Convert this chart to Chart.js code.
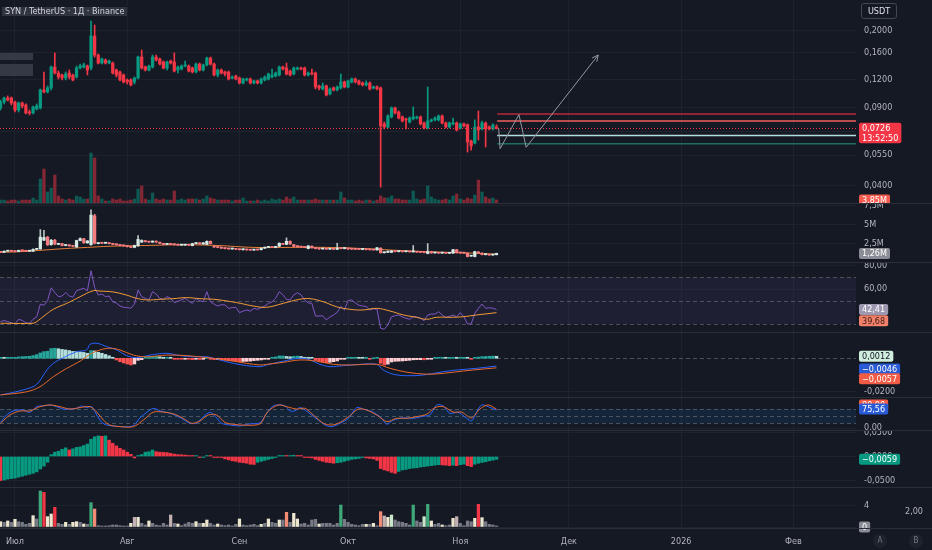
<!DOCTYPE html>
<html>
<head>
<meta charset="utf-8">
<script src="https://cdn.jsdelivr.net/npm/chart.js@4.4.1/dist/chart.umd.min.js"></script>
<style>
  body { margin: 0; width: 932px; height: 550px; overflow: hidden; position: relative; background: #151924;
         font-family: "Liberation Sans Narrow", "DejaVu Sans Condensed", "Liberation Sans", sans-serif; }
  .pane { position: absolute; left: 0; width: 932px; }
  .sep { position: absolute; left: 0; width: 932px; height: 1px; background: #2a2e39; z-index: 2; }
  .title { position: absolute; left: 2px; top: 7px; height: 9px; padding: 0 3px; background: #30343f; color: #d1d4dc;
           font-size: 9px; line-height: 9px; z-index: 3; white-space: nowrap; }
  .blk { position: absolute; left: 0; width: 33px; background: #353945; z-index: 3; }
  .usdt { position: absolute; left: 861px; top: 3px; width: 34px; height: 14px; border: 1px solid #434651; border-radius: 3px;
          color: #e0e3eb; font-size: 9px; line-height: 14px; text-align: center; z-index: 3; }
  .note { position: absolute; color: #b2b5be; font-size: 9px; z-index: 3; }
  .btn { position: absolute; top: 534px; width: 14px; height: 14px; border-radius: 7px; background: #1e222d; color: #787b86;
         font-size: 8px; line-height: 14px; text-align: center; z-index: 3; }
</style>
</head>
<body>
<div class="pane" style="top:0;height:203px"><canvas id="pane1"></canvas></div>
<div class="pane" style="top:204px;height:58px"><canvas id="pane2"></canvas></div>
<div class="pane" style="top:263px;height:69px"><canvas id="pane3"></canvas></div>
<div class="pane" style="top:333px;height:64px"><canvas id="pane4"></canvas></div>
<div class="pane" style="top:398px;height:32px"><canvas id="pane5"></canvas></div>
<div class="pane" style="top:431px;height:56px"><canvas id="pane6"></canvas></div>
<div class="pane" style="top:488px;height:62px"><canvas id="pane7"></canvas></div>

<div class="sep" style="top:203px"></div>
<div class="sep" style="top:262px"></div>
<div class="sep" style="top:332px"></div>
<div class="sep" style="top:397px"></div>
<div class="sep" style="top:430px"></div>
<div class="sep" style="top:487px"></div>
<div class="sep" style="top:528px"></div>

<div class="title">SYN / TetherUS · 1Д · Binance</div>
<div class="blk" style="top:53px;height:7px"></div>
<div class="blk" style="top:64px;height:12px"></div>
<div class="usdt">USDT</div>
<div class="note" style="left:905px;top:506px">2,00</div>
<div class="btn" style="left:873px">A</div>
<div class="btn" style="left:909px">B</div>

<script>
// daily bars, index 0 = 27 Jun 2025
const monthTicks = [4, 35, 66, 96, 127, 157, 188, 219];
const monthNames = ['Июл', 'Авг', 'Сен', 'Окт', 'Ноя', 'Дек', '2026', 'Фев'];

const open = [0.0897,0.0954,0.0995,0.0995,0.0954,0.0878,0.0944,0.0925,0.0860,0.0851,
  0.0887,0.0897,0.1081,0.1059,0.1104,0.1372,0.1289,0.1263,0.1224,0.1289,
  0.1263,0.1237,0.1358,0.1372,0.1386,0.1358,0.1893,0.1554,0.1430,0.1475,
  0.1430,0.1430,0.1330,0.1303,0.1263,0.1199,0.1199,0.1175,0.1224,0.1522,
  0.1372,0.1330,0.1372,0.1522,0.1491,0.1445,0.1358,0.1460,0.1445,0.1330,
  0.1344,0.1386,0.1386,0.1358,0.1303,0.1415,0.1330,0.1401,0.1506,0.1415,
  0.1263,0.1330,0.1303,0.1303,0.1224,0.1250,0.1224,0.1162,0.1199,0.1212,
  0.1162,0.1187,0.1162,0.1199,0.1212,0.1237,0.1250,0.1263,0.1372,0.1358,
  0.1316,0.1276,0.1344,0.1358,0.1358,0.1263,0.1289,0.1289,0.1127,0.1092,
  0.1127,0.1037,0.1104,0.1081,0.1104,0.1175,0.1115,0.1175,0.1212,0.1187,
  0.1162,0.1138,0.1162,0.1104,0.1115,0.1104,0.0760,0.0736,0.0817,0.0897,
  0.0860,0.0817,0.0800,0.0775,0.0800,0.0808,0.0817,0.0767,0.0729,0.0783,
  0.0792,0.0792,0.0825,0.0767,0.0736,0.0760,0.0767,0.0729,0.0760,0.0752,
  0.0637,0.0623,0.0736,0.0721,0.0767,0.0736,0.0721,0.0736];
const high = [0.0974,0.1005,0.1016,0.1005,0.0964,0.0954,0.0954,0.0935,0.0878,0.0915,
  0.0935,0.1092,0.1303,0.1127,0.1386,0.1587,0.1316,0.1276,0.1303,0.1330,
  0.1276,0.1386,0.1415,0.1430,0.1401,0.2212,0.2122,0.1570,0.1506,0.1491,
  0.1475,0.1445,0.1344,0.1316,0.1276,0.1212,0.1212,0.1237,0.1538,0.1637,
  0.1386,0.1401,0.1554,0.1554,0.1506,0.1460,0.1460,0.1475,0.1587,0.1386,
  0.1401,0.1460,0.1401,0.1372,0.1430,0.1430,0.1415,0.1522,0.1522,0.1430,
  0.1344,0.1344,0.1316,0.1316,0.1250,0.1263,0.1237,0.1224,0.1224,0.1224,
  0.1199,0.1199,0.1224,0.1250,0.1289,0.1344,0.1303,0.1386,0.1386,0.1430,
  0.1330,0.1372,0.1372,0.1372,0.1372,0.1303,0.1344,0.1303,0.1138,0.1162,
  0.1138,0.1104,0.1115,0.1127,0.1276,0.1187,0.1199,0.1224,0.1224,0.1199,
  0.1175,0.1187,0.1175,0.1127,0.1127,0.1115,0.0775,0.0834,0.0906,0.0906,
  0.0869,0.0825,0.0808,0.0817,0.0906,0.0825,0.0825,0.0775,0.1115,0.0800,
  0.0817,0.0834,0.0834,0.0775,0.0775,0.0808,0.0775,0.0767,0.0767,0.0760,
  0.0643,0.0792,0.0869,0.0783,0.0775,0.0744,0.0760,0.0752];
const low = [0.0878,0.0935,0.0964,0.0925,0.0860,0.0860,0.0897,0.0843,0.0834,0.0843,
  0.0878,0.0887,0.1048,0.1048,0.1081,0.1276,0.1212,0.1199,0.1199,0.1212,
  0.1187,0.1224,0.1344,0.1358,0.1263,0.1330,0.1522,0.1415,0.1415,0.1415,
  0.1415,0.1276,0.1237,0.1187,0.1162,0.1150,0.1127,0.1150,0.1212,0.1344,
  0.1316,0.1316,0.1358,0.1460,0.1401,0.1344,0.1330,0.1415,0.1303,0.1289,
  0.1330,0.1372,0.1303,0.1289,0.1289,0.1316,0.1316,0.1386,0.1401,0.1250,
  0.1237,0.1276,0.1250,0.1199,0.1212,0.1199,0.1150,0.1150,0.1187,0.1150,
  0.1150,0.1150,0.1150,0.1187,0.1199,0.1224,0.1237,0.1250,0.1330,0.1263,
  0.1250,0.1263,0.1330,0.1330,0.1250,0.1250,0.1263,0.1092,0.1081,0.1081,
  0.1016,0.1026,0.1070,0.1070,0.1092,0.1104,0.1104,0.1162,0.1162,0.1138,
  0.1127,0.1127,0.1081,0.1092,0.1081,0.0394,0.0721,0.0729,0.0808,0.0843,
  0.0800,0.0775,0.0721,0.0767,0.0792,0.0800,0.0752,0.0721,0.0721,0.0775,
  0.0783,0.0783,0.0760,0.0729,0.0729,0.0752,0.0706,0.0721,0.0736,0.0567,
  0.0579,0.0617,0.0643,0.0714,0.0598,0.0714,0.0714,0.0721];
const close = [0.0954,0.0995,0.0974,0.0944,0.0878,0.0944,0.0915,0.0851,0.0851,0.0906,
  0.0915,0.1081,0.1059,0.1104,0.1372,0.1289,0.1237,0.1224,0.1276,0.1237,
  0.1199,0.1358,0.1386,0.1401,0.1330,0.1893,0.1554,0.1430,0.1491,0.1430,
  0.1460,0.1289,0.1263,0.1199,0.1175,0.1175,0.1138,0.1224,0.1522,0.1358,
  0.1330,0.1386,0.1522,0.1475,0.1415,0.1358,0.1445,0.1430,0.1316,0.1372,
  0.1386,0.1401,0.1316,0.1303,0.1415,0.1330,0.1401,0.1506,0.1415,0.1263,
  0.1330,0.1289,0.1276,0.1212,0.1237,0.1212,0.1162,0.1212,0.1212,0.1162,
  0.1187,0.1162,0.1212,0.1237,0.1276,0.1263,0.1289,0.1372,0.1344,0.1276,
  0.1263,0.1358,0.1358,0.1344,0.1263,0.1289,0.1276,0.1115,0.1104,0.1127,
  0.1026,0.1092,0.1081,0.1115,0.1175,0.1115,0.1187,0.1212,0.1175,0.1150,
  0.1138,0.1162,0.1092,0.1115,0.1092,0.0744,0.0736,0.0825,0.0897,0.0851,
  0.0808,0.0783,0.0792,0.0808,0.0817,0.0817,0.0760,0.0729,0.0783,0.0792,
  0.0808,0.0825,0.0767,0.0736,0.0767,0.0767,0.0714,0.0760,0.0744,0.0630,
  0.0604,0.0736,0.0714,0.0767,0.0721,0.0721,0.0752,0.0726];
// volume, millions
const volume = [3.8,3.8,2.6,3.8,3.8,2.6,3.8,3.8,3.8,6.4, 3.8,30.7,43.5,14.1,19.2,35.8,9.0,5.1,3.8,5.1,
  3.8,9.0,7.7,5.1,5.1,64.0,57.6,9.0,5.1,2.6, 2.6,5.1,3.8,5.1,2.6,2.6,3.8,5.1,17.9,21.8,
  5.1,3.8,12.8,5.1,3.8,5.1,3.8,3.8,15.4,3.8, 5.1,3.8,5.1,5.1,5.1,3.8,5.1,9.0,6.4,5.1,
  3.8,3.8,3.8,3.8,2.6,3.8,3.8,6.4,2.6,2.6, 2.6,3.8,2.6,3.8,2.6,5.1,3.8,5.1,3.8,7.7,
  5.1,7.7,3.8,3.8,3.8,3.8,3.8,5.1,3.8,3.8, 3.8,3.8,3.8,3.8,14.1,6.4,3.8,3.8,2.6,3.8,
  2.6,3.8,3.8,2.6,3.8,9.0,6.4,6.4,9.0,5.1, 5.1,3.8,3.8,3.8,15.4,5.1,3.8,5.1,21.8,7.7,
  5.1,3.8,3.8,5.1,3.8,9.0,11.5,5.1,3.8,6.4, 5.1,10.2,29.4,14.1,7.7,5.1,6.4,3.85];

// drawings on the price pane
const levelStart = 137.2;
const levelPrices = [0.0842, 0.0783, 0.0673, 0.0619];
const pathIdx = [137.6, 138.0, 143.2, 145.2, 165.1];
const pathPrice = [0.0726, 0.0587, 0.0837, 0.0596, 0.1554];

// pane 2, millions
const p2Open = [1.50,1.40,1.55,1.60,1.55,1.50,1.65,1.60,1.55,1.55, 1.80,1.85,3.00,3.40,2.40,3.00,2.45,2.55,2.30,2.35,
  2.25,2.10,2.95,3.20,2.65,2.40,6.20,2.55,2.65,2.60, 2.62,2.55,2.45,2.40,2.30,2.25,2.15,2.05,2.25,2.75,
  2.90,2.80,2.75,2.85,2.70,2.55,2.45,2.50,2.45,2.40, 2.35,2.35,2.40,2.30,2.55,2.65,2.50,2.45,2.85,2.20,
  2.10,2.05,1.95,1.90,1.85,1.85,1.80,1.75,1.78,1.72, 1.70,1.75,1.75,1.95,2.05,2.10,2.05,2.20,2.55,2.45,
  2.85,2.40,2.20,2.15,2.10,1.90,2.20,2.00,1.90,1.85, 1.88,1.82,1.85,1.80,1.95,1.90,1.92,1.85,1.82,1.80,
  1.78,1.80,1.76,1.74,1.72,1.95,1.35,1.40,1.40,1.55, 1.50,1.52,1.48,1.50,1.46,1.48,1.42,1.40,1.25,1.50,
  1.32,1.34,1.30,1.32,1.28,1.30,1.75,1.35,1.32,1.30, 0.90,0.85,1.45,1.30,1.10,1.12,1.05,1.10];
const p2Close = [1.40,1.55,1.60,1.55,1.50,1.65,1.60,1.55,1.55,1.80, 1.85,3.40,3.35,2.40,3.00,2.50,2.55,2.30,2.35,2.25,
  2.20,2.95,3.20,2.65,2.90,6.30,2.60,2.65,2.60,2.62, 2.55,2.45,2.40,2.30,2.25,2.15,2.05,2.30,3.10,2.95,
  2.80,2.75,2.85,2.75,2.60,2.45,2.50,2.45,2.40,2.35, 2.35,2.40,2.35,2.55,2.65,2.50,2.65,2.85,2.55,2.10,
  2.05,1.95,1.90,1.85,1.85,1.80,1.75,1.78,1.72,1.70, 1.75,1.72,1.95,2.05,2.10,2.05,2.15,2.60,2.45,2.85,
  2.50,2.20,2.15,2.10,2.05,2.25,2.00,1.90,1.85,1.88, 1.82,1.85,1.80,1.95,1.90,1.92,1.85,1.82,1.80,1.78,
  1.80,1.76,1.74,1.72,2.00,1.35,1.40,1.55,1.60,1.50, 1.52,1.48,1.50,1.46,1.48,1.42,1.40,1.38,1.50,1.32,
  1.34,1.30,1.32,1.28,1.30,1.75,1.35,1.32,1.30,0.85, 0.95,1.50,1.30,1.10,1.12,1.05,1.10,1.26];
const p2High = [1.55,1.60,1.65,1.65,1.60,1.70,1.70,1.62,1.60,1.85, 1.90,4.40,4.30,3.50,3.10,3.10,2.60,2.60,2.40,2.40,
  2.30,3.00,3.30,3.25,2.95,7.00,6.40,2.70,2.70,2.68, 2.65,2.60,2.50,2.45,2.35,2.30,2.20,2.35,3.60,3.05,
  2.95,2.85,2.90,2.90,2.75,2.60,2.55,2.55,2.50,2.45, 2.40,2.45,2.45,2.60,2.70,2.70,2.70,2.90,2.90,2.25,
  2.15,2.10,2.00,1.95,1.90,1.90,1.85,1.82,1.82,1.76, 1.80,1.78,2.00,2.10,2.15,2.15,2.20,2.65,2.60,3.30,
  2.90,2.45,2.25,2.20,2.15,2.30,2.25,2.05,1.95,1.92, 1.92,1.90,1.90,2.60,2.00,1.96,1.96,1.90,1.86,1.84,
  1.84,1.84,1.80,1.78,2.05,2.00,1.45,1.60,1.65,1.60, 1.56,1.56,1.54,1.54,2.30,1.52,1.46,1.44,2.55,1.54,
  1.38,1.38,1.36,1.36,1.34,1.80,1.80,1.40,1.36,1.32, 1.00,1.55,1.50,1.35,1.16,1.16,1.15,1.30];
const p2Low = [1.35,1.38,1.50,1.50,1.45,1.48,1.55,1.50,1.50,1.52, 1.75,1.80,2.95,2.30,2.35,2.40,2.40,2.25,2.25,2.20,
  2.15,2.05,2.90,2.60,2.60,2.35,2.50,2.50,2.55,2.55, 2.50,2.40,2.35,2.25,2.20,2.10,2.00,2.00,2.20,2.70,
  2.75,2.70,2.70,2.70,2.55,2.40,2.40,2.40,2.35,2.30, 2.30,2.30,2.30,2.25,2.50,2.45,2.45,2.40,2.50,2.05,
  2.00,1.90,1.85,1.80,1.80,1.75,1.70,1.70,1.68,1.66, 1.66,1.68,1.70,1.90,2.00,2.00,2.00,2.15,2.40,2.40,
  2.45,2.15,2.10,2.05,2.00,1.85,1.95,1.85,1.80,1.80, 1.78,1.78,1.75,1.75,1.85,1.85,1.80,1.78,1.75,1.74,
  1.74,1.72,1.70,1.68,1.68,1.30,1.30,1.35,1.35,1.45, 1.45,1.44,1.44,1.42,1.42,1.38,1.36,1.34,1.20,1.28,
  1.28,1.26,1.26,1.24,1.24,1.26,1.30,1.28,1.26,0.80, 0.85,0.80,1.25,1.05,1.05,1.00,1.00,1.05];
const p2MaIdx = [0, 6, 12, 18, 24, 30, 40, 50, 60, 70, 80, 90, 100, 110, 120, 130, 137];
const p2MaVals = [1.40, 1.50, 1.70, 1.90, 2.05, 2.20, 2.30, 2.40, 2.30, 2.05, 2.05, 2.05, 1.90, 1.65, 1.45, 1.30, 1.15];

// RSI
const rsi = [32,33,32,31,30,34,33,31,30.5,34, 36,47,46,50,61,57,53.4,54,57,54,
  53,58.5,59.7,60.6,58.5,75.7,61.4,54.8,55.7,53.4, 54,49,48,45.4,44.3,44,43.5,47,59.1,53.4,
  52,50.6,57.7,55.7,52,51,53.4,52,48.2,49.5, 50.6,52,49.5,47.7,52,50,49,57.7,49,47,
  45.4,46.5,46.3,43.4,44,44.3,39.7,41,42,41, 43.4,42.5,44,45.4,47.7,49,52,57.7,55,51,
  50.6,55,56.8,55,50.6,48,47.7,36.8,36.8,37, 33.4,36,37.7,40,45,42,50,50.6,48,46,
  45.4,45,42,43,42.5,26.3,25.4,29.1,36.2,37, 37.7,36,34.9,34,36.2,36,34.9,32.8,37.7,38.5,
  38.5,40.5,37.7,35.7,36.5,37.7,36.2,39.7,36.2,30, 30,39.1,43.4,47.1,43.4,43.9,43.5,42.41];
const rsiMaIdx = [0, 9, 10, 12, 14.6, 18.3, 22, 25.6, 27.5, 31.2, 34.8, 37.6, 40.4, 44.1, 47.7, 51.4, 55.1, 58.8, 62.5, 66.2,
  69.8, 73.5, 78.1, 82.7, 85.5, 89.2, 92.8, 96.5, 100.2, 103.9, 107.6, 111.3, 114.9, 117.7, 120.5, 124.2, 127.8, 131.5, 137];
const rsiMaVals = [30.6, 30.6, 32, 36.8, 42.6, 47.7, 53.4, 58.5, 58.2, 57.4, 54.8, 52, 50.6, 51.2, 51.7, 52.6, 51.7, 51.2, 49.7, 47.7,
  45.4, 44.3, 47.7, 51.2, 51.7, 49, 44.8, 42.6, 42, 43.4, 41.1, 37.7, 35.7, 34, 35.7, 35.7, 36.2, 37.7, 39.68];

// MACD
const macdIdx = [0, 3.5, 7.2, 10, 12.8, 14.6, 17.4, 21, 23.8, 24.7, 26.6, 29.3, 32.1, 34.8, 37.6, 41.3, 45.9, 49.6, 53.3, 57,
  60.6, 64.3, 68, 71.7, 73.5, 78.1, 82.7, 85.5, 88.2, 91, 94.7, 99.3, 103.9, 105.7, 108.5, 112.2, 116.8, 121.4, 126, 131.5, 137];
const macdVals = [-0.0219, -0.0204, -0.0183, -0.0156, -0.0070, -0.0030, 0.0004, 0.0039, 0.0050, 0.0083, 0.0090, 0.0070, 0.0050, 0.0016, 0.0004,
  0.0019, 0.0030, 0.0016, 0.0009, 0.0009, -0.0010, -0.0030, -0.0044, -0.0050, -0.0040, -0.0017, 0.0000, -0.0010, -0.0036, -0.0050,
  -0.0044, -0.0036, -0.0036, -0.0070, -0.0095, -0.0104, -0.0100, -0.0083, -0.0070, -0.0060, -0.0046];
const signalIdx = [0, 7.2, 10.9, 14.6, 18.3, 22, 24.7, 27.5, 30.2, 33, 36.7, 40.4, 45.9, 51.4, 57, 60.6, 64.3, 68, 71.7, 73.5,
  78.1, 82.7, 87.3, 91.9, 96.5, 103.9, 107.6, 112.2, 117.7, 122.3, 127.8, 133.4, 137];
const signalVals = [-0.0219, -0.0200, -0.0170, -0.0110, -0.0060, -0.0017, 0.0024, 0.0050, 0.0060, 0.0050, 0.0019, 0.0009, 0.0019, 0.0016, 0.0004,
  -0.0005, -0.0017, -0.0030, -0.0040, -0.0036, -0.0024, -0.0010, -0.0017, -0.0036, -0.0040, -0.0036, -0.0060, -0.0083, -0.0095, -0.0090,
  -0.0076, -0.0064, -0.0057];
const macdHist = [0.0003,0.0002,0.0003,0.0003,0.0004,0.0008,0.0010,0.0011,0.0012,0.0016, 0.0022,0.0032,0.0040,0.0042,0.0058,0.0060,0.0057,0.0053,0.0050,0.0046,
  0.0041,0.0040,0.0038,0.0035,0.0030,0.0046,0.0044,0.0036,0.0030,0.0023, 0.0015,0.0002,-0.0010,-0.0020,-0.0028,-0.0034,-0.0040,-0.0034,-0.0012,-0.0008,
  0.0002,0.0006,0.0012,0.0012,0.0009,0.0005,0.0006,0.0004,-0.0002,-0.0003, -0.0004,-0.0003,-0.0006,-0.0008,-0.0005,-0.0007,-0.0005,0.0001,-0.0001,-0.0008,
  -0.0008,-0.0010,-0.0011,-0.0014,-0.0015,-0.0017,-0.0020,-0.0019,-0.0018,-0.0017, -0.0014,-0.0012,-0.0010,-0.0006,-0.0002,0.0004,0.0008,0.0014,0.0014,0.0011,
  0.0009,0.0012,0.0013,0.0011,0.0006,0.0004,0.0002,-0.0012,-0.0018,-0.0022, -0.0026,-0.0024,-0.0020,-0.0016,-0.0006,-0.0004,0.0002,0.0005,0.0005,0.0004,
  0.0002,0.0002,-0.0001,0.0000,0.0001,-0.0030,-0.0040,-0.0035,-0.0022,-0.0018, -0.0017,-0.0016,-0.0014,-0.0012,-0.0009,-0.0008,-0.0008,-0.0009,-0.0004,-0.0002,
  0.0001,0.0004,0.0004,0.0003,0.0004,0.0005,0.0004,0.0005,0.0005,0.0001, -0.0001,0.0004,0.0007,0.0010,0.0011,0.0012,0.0013,0.0012];

// Stochastic
const stochKIdx = [0, 1.7, 3.5, 6.3, 8.1, 10, 11.8, 13.7, 15.5, 17.4, 19.2, 21, 22.4, 23.8, 25.2, 26.6, 28, 29.3, 31.2, 33.9,
  36.7, 38.5, 40.4, 42.2, 44.1, 45.9, 47.7, 50, 52.3, 54.2, 56, 57.9, 59.7, 61.1, 63.4, 66.2, 68.9, 71.7, 73.5, 75.3,
  77.2, 78.6, 80, 81.3, 82.7, 84.1, 85.9, 87.8, 89.6, 91.5, 93.8, 96.1, 98.4, 100.2, 103, 105.3, 106.7, 108.5, 111.3, 114,
  116.8, 118.6, 120.5, 122.3, 124.1, 126.4, 128.8, 130.1, 131.5, 132.9, 134.7, 137];
const stochKVals = [24, 55, 72, 76, 66, 90, 93, 97, 90, 80, 80, 83, 93, 86, 90, 55, 24, 13, 9, 6,
  10, 43, 66, 83, 72, 66, 58, 41, 20, 22, 47, 66, 43, 20, 13, 9, 18, 22, 62, 93,
  97, 93, 72, 72, 86, 76, 55, 34, 13, 6, 20, 41, 86, 80, 66, 41, 16, 34, 43, 41,
  50, 55, 97, 93, 62, 66, 41, 30, 67, 97, 90, 75.56];
const stochDIdx = [0, 2.6, 5.4, 8.1, 10.9, 13.7, 16.4, 19.2, 22, 24.7, 26.6, 28.4, 30.2, 33, 36.7, 39.5, 42.2, 45, 47.7, 50.5,
  52.8, 55.1, 57.4, 59.7, 62, 64.3, 68, 71.7, 73.7, 76.7, 79, 81.8, 84.1, 86.4, 89.2, 91.5, 93.8, 96.5, 98.8, 101.1,
  103.9, 106.7, 109.4, 112.2, 114.9, 117.7, 120, 122.3, 125.1, 127.4, 130.1, 132.4, 134.7, 137];
const stochDVals = [20, 55, 72, 72, 90, 97, 90, 80, 86, 90, 67, 34, 13, 6, 6, 34, 67, 67, 60, 41,
  20, 30, 55, 55, 24, 16, 12, 18, 67, 97, 90, 80, 83, 55, 20, 13, 24, 52, 80, 76,
  55, 27, 41, 41, 48, 58, 86, 90, 67, 67, 43, 80, 97, 80];

// momentum histogram (pane 6)
const momentum = [-0.050,-0.049,-0.047,-0.046,-0.045,-0.043,-0.041,-0.039,-0.037,-0.035, -0.032,-0.026,-0.020,-0.012,0.004,0.009,0.011,0.015,0.018,0.0135,
  0.016,0.019,0.020,0.023,0.026,0.036,0.041,0.043,0.042,0.043, 0.034,0.0275,0.022,0.017,0.0135,0.009,0.0045,-0.003,0.002,0.004,
  0.009,0.010,0.0135,0.010,0.009,0.0085,0.008,0.0065,0.005,0.004, 0.0035,0.003,0.002,0.0005,0.001,-0.001,-0.0005,0.001,0.0005,-0.001,
  -0.0015,-0.002,-0.005,-0.007,-0.009,-0.010,-0.012,-0.013,-0.014,-0.016, -0.0165,-0.012,-0.010,-0.008,-0.006,-0.004,-0.002,0.001,0.002,0.0015,
  0.002,0.0025,0.002,0.001,-0.001,-0.002,-0.003,-0.006,-0.008,-0.010, -0.012,-0.013,-0.014,-0.013,-0.012,-0.010,-0.008,-0.006,-0.005,-0.004,
  -0.002,-0.003,-0.004,-0.005,-0.008,-0.025,-0.028,-0.030,-0.033,-0.035, -0.031,-0.028,-0.027,-0.025,-0.024,-0.0235,-0.022,-0.021,-0.020,-0.019,
  -0.018,-0.017,-0.0175,-0.018,-0.019,-0.018,-0.019,-0.017,-0.016,-0.019, -0.021,-0.016,-0.014,-0.0125,-0.011,-0.009,-0.0075,-0.0059];

// relative volume bars (pane 7) and their state: 0 low, 1 normal, 2 up, 3 down, 4 high up, 5 high down, 6 mixed
const relVol = [0.99,0.87,1.12,0.87,1.43,0.99,0.87,0.50,0.68,2.11, 1.49,6.70,6.45,1.92,2.42,3.66,0.68,0.50,0.87,0.50,
  0.87,0.99,0.87,0.56,0.50,4.53,3.35,0.25,0.10,0.10, 0.25,0.37,0.37,0.25,0.10,0.10,0.68,1.80,1.80,0.68,
  0.37,1.12,0.68,0.37,0.25,0.68,0.37,2.23,0.68,0.56, 0.25,0.56,0.87,0.68,0.99,0.68,0.68,1.30,0.68,0.37,
  0.56,0.37,0.25,0.37,0.10,0.50,1.49,0.37,0.25,0.37, 0.50,0.25,0.50,0.68,1.49,0.87,0.70,1.30,1.30,2.73,
  0.87,2.54,1.49,0.56,0.68,0.37,1.30,1.43,0.56,0.68, 0.68,0.68,0.37,0.68,4.09,1.43,0.87,0.50,0.37,0.25,
  0.50,0.50,0.50,0.68,0.25,2.85,2.05,1.80,2.23,1.30, 0.99,0.87,0.68,0.37,4.09,1.12,0.87,1.92,4.22,1.12,
  0.50,0.68,0.37,0.25,0.37,1.61,1.92,0.68,0.25,1.12, 0.99,1.61,4.22,1.74,0.99,0.50,0.37,0.20];
const relVolState = [1,0,1,0,1,0,0,0,0,1, 0,4,5,1,1,5,0,0,1,0, 1,1,0,1,0,4,3,0,0,0, 0,0,0,0,0,0,1,6,1,0,
  0,1,0,0,0,0,0,6,0,1, 0,0,0,0,1,0,1,1,0,0, 1,0,0,0,0,0,1,0,0,0, 0,0,1,0,1,0,0,1,0,3,
  0,1,1,0,0,0,0,0,1,0, 0,0,0,0,4,0,0,0,0,0, 0,1,0,1,0,3,6,1,2,0, 0,0,0,0,4,0,0,2,4,1,
  0,0,1,0,0,1,6,0,0,0, 0,1,5,1,0,0,0,0];

// ---- styling ----
const fontFamily = '"Liberation Sans Narrow", "DejaVu Sans Condensed", "Liberation Sans", sans-serif';
const axisFont = { family: fontFamily, size: 9 };
const textColor = '#b2b5be';
const gridColor = '#1e222d';
const upColor = '#089981', downColor = '#f23645';
const axisWidth = 76;
const xMin = -0.14, xMax = 236.3;
const relVolPalette = ['#787b86', '#ece6cf', '#c8e6c9', '#f28b75', '#3fa77a', '#f23645', '#c4b1b3'];

Chart.defaults.font.family = fontFamily;
Chart.defaults.color = textColor;

const fmt = d => v => v.toFixed(d).replace('.', ',');
const pts = (xs, ys) => xs.map((x, i) => ({ x: x, y: ys[i] }));
const byBar = ys => ys.map((y, i) => ({ x: i, y: y }));

function timeAxis(showLabels) {
  return {
    type: 'linear', min: xMin, max: xMax, offset: false,
    afterBuildTicks: s => { s.ticks = monthTicks.map(v => ({ value: v })); },
    afterFit: s => { s.paddingLeft = 0; s.paddingRight = 0; s.height = showLabels ? 22 : 0; },
    grid: { color: gridColor, drawTicks: false, offset: false },
    border: { display: false },
    ticks: { display: showLabels, autoSkip: false, maxRotation: 0, padding: 8, color: textColor, font: axisFont,
             callback: (v, i) => monthNames[i] }
  };
}

function valueAxis(type, min, max, tickValues, format) {
  return {
    type: type, position: 'right', min: min, max: max, bounds: 'data',
    afterBuildTicks: s => { s.ticks = tickValues.map(v => ({ value: v })); },
    afterFit: s => { s.width = axisWidth; s.paddingTop = 0; s.paddingBottom = 0; },
    grid: { color: gridColor, drawTicks: false },
    border: { display: false },
    ticks: { color: textColor, font: axisFont, padding: 8, autoSkip: false, callback: format }
  };
}

// last-value labels on the price scale
const tagPlugin = {
  id: 'tags',
  afterDraw(chart, args, opts) {
    const items = opts.items || [];
    const ctx = chart.ctx;
    const left = chart.chartArea.right + 3;
    items.forEach(t => {
      const y = chart.scales[t.axis || 'y'].getPixelForValue(t.value) + (t.dy || 0);
      const lines = t.sub ? [t.text, t.sub] : [t.text];
      ctx.save();
      ctx.font = '9px ' + fontFamily;
      const w = Math.max.apply(null, lines.map(l => ctx.measureText(l).width)) + 6;
      ctx.fillStyle = t.bg;
      ctx.beginPath();
      ctx.roundRect(left, y - 5.5, w, lines.length * 9.5 + 1.5, 2);
      ctx.fill();
      ctx.fillStyle = t.fg;
      ctx.textBaseline = 'middle';
      lines.forEach((l, k) => ctx.fillText(l, left + 3, y + 0.5 + k * 9.5));
      ctx.restore();
    });
  }
};

// bands and dashed reference lines
const decorPlugin = {
  id: 'decor',
  beforeDatasetsDraw(chart, args, o) {
    const { ctx, chartArea: a } = chart;
    const y = chart.scales.y;
    ctx.save();
    if (o.band) {
      const y1 = y.getPixelForValue(o.band[0]), y2 = y.getPixelForValue(o.band[1]);
      ctx.fillStyle = o.bandColor;
      ctx.fillRect(a.left, Math.min(y1, y2), a.width, Math.abs(y2 - y1));
    }
    (o.dashed || []).forEach(v => {
      const py = Math.round(y.getPixelForValue(v)) + 0.5;
      ctx.setLineDash([4, 3]);
      ctx.strokeStyle = 'rgba(120,123,134,0.55)';
      ctx.lineWidth = 1;
      ctx.beginPath(); ctx.moveTo(a.left, py); ctx.lineTo(a.right, py); ctx.stroke();
    });
    ctx.restore();
  }
};

// price line, levels and the projected path
const drawingsPlugin = {
  id: 'drawings',
  afterDatasetsDraw(chart, args, o) {
    if (!o.on) return;
    const { ctx, chartArea: a, scales: { x, y } } = chart;
    const hline = (x0, py, col, w, dash) => {
      ctx.strokeStyle = col; ctx.lineWidth = w; ctx.setLineDash(dash || []);
      ctx.beginPath(); ctx.moveTo(x0, py); ctx.lineTo(a.right, py); ctx.stroke();
    };
    ctx.save();
    ctx.beginPath(); ctx.rect(a.left, a.top, a.width, a.height); ctx.clip();
    hline(a.left, Math.round(y.getPixelForValue(close[close.length - 1])) + 0.5, downColor, 1, [1, 2]);
    const levelColors = ['#b8283a', '#f0605d', '#b2dfdb', '#1f6e5a'];
    levelPrices.forEach((p, k) => hline(x.getPixelForValue(levelStart), y.getPixelForValue(p), levelColors[k], 1.5));
    ctx.setLineDash([]);
    ctx.strokeStyle = '#9598a1'; ctx.lineWidth = 1;
    ctx.beginPath();
    const px = pathIdx.map(v => x.getPixelForValue(v));
    const py = pathPrice.map(v => y.getPixelForValue(v));
    px.forEach((v, k) => k ? ctx.lineTo(v, py[k]) : ctx.moveTo(v, py[k]));
    const n = px.length - 1;
    const ang = Math.atan2(py[n] - py[n - 1], px[n] - px[n - 1]);
    ctx.moveTo(px[n] - 7 * Math.cos(ang - 0.45), py[n] - 7 * Math.sin(ang - 0.45));
    ctx.lineTo(px[n], py[n]);
    ctx.lineTo(px[n] - 7 * Math.cos(ang + 0.45), py[n] - 7 * Math.sin(ang + 0.45));
    ctx.stroke();
    ctx.restore();
  }
};

Chart.register(tagPlugin, decorPlugin, drawingsPlugin);

function pane(id, datasets, yScales, plugins, showTime) {
  return new Chart(document.getElementById(id), {
    type: 'bar',
    data: { datasets: datasets },
    options: {
      responsive: true, maintainAspectRatio: false, animation: false,
      layout: { padding: 0 },
      plugins: Object.assign({ legend: { display: false }, tooltip: { enabled: false } }, plugins),
      scales: Object.assign({ x: timeAxis(showTime === true) }, yScales)
    }
  });
}

const barCommon = { grouped: false, borderWidth: 0, barThickness: 2.6, minBarLength: 1 };
const lineCommon = { type: 'line', pointRadius: 0, borderWidth: 1, fill: false };
const isUp = close.map((c, i) => c >= open[i]);
const last = a => a[a.length - 1];

// pane 1: price + volume
pane('pane1', [
  Object.assign({ data: close.map((c, i) => ({ x: i, y: [open[i], c] })), backgroundColor: isUp.map(u => u ? upColor : downColor), order: 1 }, barCommon),
  Object.assign({}, barCommon, { data: high.map((h, i) => ({ x: i, y: [low[i], h] })), backgroundColor: isUp.map(u => u ? upColor : downColor), barThickness: 1, order: 2 }),
  Object.assign({ data: byBar(volume), yAxisID: 'vol', backgroundColor: isUp.map(u => u ? 'rgba(8,153,129,0.5)' : 'rgba(242,54,69,0.5)'), order: 3 }, barCommon)
], {
  y: valueAxis('logarithmic', 0.03342, 0.2751, [0.04, 0.055, 0.07, 0.09, 0.12, 0.16, 0.2], v => v === 0.07 ? '' : fmt(4)(v)),
  vol: { display: false, min: 0, max: 260 }
}, {
  drawings: { on: true },
  tags: { items: [
    { value: last(volume), axis: 'vol', bg: '#f45b4f', fg: '#ffffff', text: fmt(2)(last(volume)) + 'M' },
    { value: last(close), bg: '#f23645', fg: '#ffffff', text: fmt(4)(last(close)), sub: '13:52:50' }
  ] }
});

// pane 2
const p2Up = p2Close.map((c, i) => c >= p2Open[i]);
pane('pane2', [
  Object.assign({ data: p2Close.map((c, i) => ({ x: i, y: [p2Open[i], c] })), backgroundColor: p2Up.map(u => u ? '#d6ebe4' : '#f77c80'), order: 1 }, barCommon),
  Object.assign({}, barCommon, { data: p2High.map((h, i) => ({ x: i, y: [p2Low[i], h] })), backgroundColor: p2Up.map(u => u ? '#b8c4c2' : '#f77c80'), barThickness: 1, order: 2 }),
  Object.assign({ data: pts(p2MaIdx, p2MaVals), borderColor: '#e9803a', tension: 0.4, order: 3 }, lineCommon)
], {
  y: valueAxis('linear', 0.13, 7.76, [2.5, 5, 7.5], v => (v === 5 ? '5' : fmt(1)(v)) + 'M')
}, {
  tags: { items: [{ value: last(p2Close), bg: '#8a8d96', fg: '#ffffff', text: fmt(2)(last(p2Close)) + 'M' }] }
});

// pane 3: RSI
pane('pane3', [
  Object.assign({ data: byBar(rsi), borderColor: '#7e57c2', order: 2 }, lineCommon),
  Object.assign({ data: pts(rsiMaIdx, rsiMaVals), borderColor: '#f39c34', tension: 0.4, order: 1 }, lineCommon)
], {
  y: valueAxis('linear', 23.09, 82.32, [60, 80], fmt(2))
}, {
  decor: { band: [70, 30], bandColor: 'rgba(126,87,194,0.10)', dashed: [70, 50, 30] },
  tags: { items: [
    { value: last(rsi), bg: '#9d98b0', fg: '#ffffff', text: fmt(2)(last(rsi)) },
    { value: last(rsiMaVals), bg: '#f0806a', fg: '#3a1c14', text: fmt(2)(last(rsiMaVals)), dy: 8 }
  ] }
});

// pane 4: MACD
pane('pane4', [
  Object.assign({ data: byBar(macdHist), backgroundColor: macdHist.map((v, i) => {
    const prev = i ? macdHist[i - 1] : v;
    return v >= 0 ? (v >= prev ? '#26a69a' : '#b2dfdb') : (v >= prev ? '#ffcdd2' : '#ff5252');
  }), order: 3 }, barCommon, { barThickness: 2.8 }),
  Object.assign({ data: pts(macdIdx, macdVals), borderColor: '#2962ff', tension: 0.35, order: 2 }, lineCommon),
  Object.assign({ data: pts(signalIdx, signalVals), borderColor: '#e8692c', tension: 0.35, order: 1 }, lineCommon)
], {
  y: valueAxis('linear', -0.02312, 0.01511, [-0.02], fmt(4))
}, {
  decor: { dashed: [0] },
  tags: { items: [
    { value: last(macdHist), bg: '#cfeedd', fg: '#131722', text: fmt(4)(last(macdHist)) },
    { value: last(macdVals), bg: '#2a5bd7', fg: '#ffffff', text: '−' + fmt(4)(-last(macdVals)), dy: 3 },
    { value: last(signalVals), bg: '#f25c45', fg: '#ffffff', text: '−' + fmt(4)(-last(signalVals)), dy: 11 }
  ] }
});

// pane 5: Stochastic
pane('pane5', [
  Object.assign({ data: pts(stochKIdx, stochKVals), borderColor: '#2962ff', tension: 0.3, order: 2 }, lineCommon),
  Object.assign({ data: pts(stochDIdx, stochDVals), borderColor: '#e8692c', tension: 0.3, order: 1 }, lineCommon)
], {
  y: valueAxis('linear', -7.97, 126.3, [0], fmt(2))
}, {
  decor: { band: [80, 20], bandColor: 'rgba(33,150,243,0.10)', dashed: [80, 50, 20] },
  tags: { items: [
    { value: last(stochDVals), bg: '#f25c45', fg: '#ffffff', text: fmt(2)(last(stochDVals)), dy: -4 },
    { value: last(stochKVals), bg: '#2a5bd7', fg: '#ffffff', text: fmt(2)(last(stochKVals)), dy: -1 }
  ] }
});

// pane 6: momentum
pane('pane6', [
  Object.assign({ data: byBar(momentum), backgroundColor: momentum.map((v, i) => (i && v > momentum[i - 1]) ? '#089981' : '#f23645') }, barCommon, { barThickness: 2.8 })
], {
  y: valueAxis('linear', -0.0635, 0.0531, [-0.05, 0, 0.05], fmt(4))
}, {
  tags: { items: [{ value: last(momentum), bg: '#089981', fg: '#ffffff', text: '−' + fmt(4)(-last(momentum)) }] }
});

// pane 7: relative volume with time axis
pane('pane7', [
  Object.assign({ data: byBar(relVol), backgroundColor: relVolState.map(s => relVolPalette[s]) }, barCommon)
], {
  y: valueAxis('linear', -0.186, 7.256, [0, 4], v => String(v))
}, {
  tags: { items: [{ value: 0, bg: '#8a8d96', fg: '#ffffff', text: String(Math.round(last(relVol))) }] }
}, true);
</script>
</body>
</html>
